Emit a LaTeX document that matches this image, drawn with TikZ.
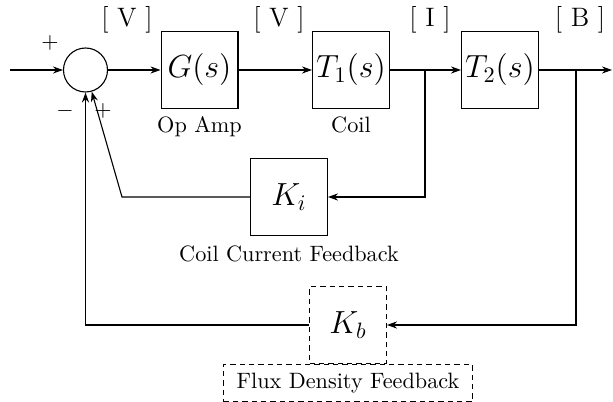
\documentclass[tikz,border=0pt]{standalone}
\usepackage{amsmath}
\usepackage{tikz}
\usetikzlibrary{positioning,arrows.meta}

\begin{document}
\begin{tikzpicture}[x=0.45pt,y=-0.45pt,>={Stealth[length=4.5pt,width=3.2pt]},
  line width=0.5pt,
  blk/.style={draw,minimum size=34.6pt,inner sep=0pt,font=\Large},
  dblk/.style={blk,dash pattern=on 2.4pt off 1.8pt},
  unitlbl/.style={font=\large},
  sgn/.style={inner sep=0pt}]
  \useasboundingbox (0,0) rectangle (613,402);
  % forward path
  \coordinate (in) at (10,70);
  \node[draw,circle,minimum size=19.8pt,inner sep=0pt] (sum) at (85.5,70) {};
  \node[blk] (gs) at (199.5,70) {$G(s)$};
  \node[blk] (tone) at (351,70) {$T_1(s)$};
  \node[blk] (ttwo) at (500,70) {$T_2(s)$};
  \coordinate (out) at (612,70);
  \coordinate (ibr) at (425,70);
  \coordinate (bbr) at (576,70);
  \node[below=0pt of gs] (opamp) {Op Amp};
  \node[below=0pt of tone] (coil) {Coil};
  % units
  \node[unitlbl] (uv1) at (127,20) {[ V ]};
  \node[unitlbl] (uv2) at (279,20) {[ V ]};
  \node[unitlbl] (ui) at (430,20) {[ I ]};
  \node[unitlbl] (ub) at (580,20) {[ B ]};
  % signs
  \node[sgn] (pin) at (50,43) {$+$};
  \node[sgn] (mkb) at (65,111) {$-$};
  \node[sgn] (pki) at (103,111) {$+$};
  % feedback blocks
  \node[blk] (kcur) at (289,197) {$K_i$};
  \node[below=1pt of kcur] (kcurlbl) {Coil Current Feedback};
  \coordinate (kiturn) at (122,197);
  \node[dblk] (kflux) at (348,325) {$K_b$};
  \node[draw,dash pattern=on 2.4pt off 1.8pt,minimum width=112pt,minimum height=16.7pt,
    below=0pt of kflux] (kfluxlbl) {Flux Density Feedback};
  % connectors
  \draw[->] (in) -- (sum);
  \draw[->] (sum) -- (gs);
  \draw[->] (gs) -- (tone);
  \draw[->] (tone) -- (ttwo);
  \draw[->] (ttwo) -- (out);
  \draw[->] (ibr) |- (kcur);
  \draw[->] (kcur) -- (kiturn) -- (sum);
  \draw[->] (bbr) |- (kflux);
  \draw[->] (kflux) -| (sum.south);
\end{tikzpicture}
\end{document}
